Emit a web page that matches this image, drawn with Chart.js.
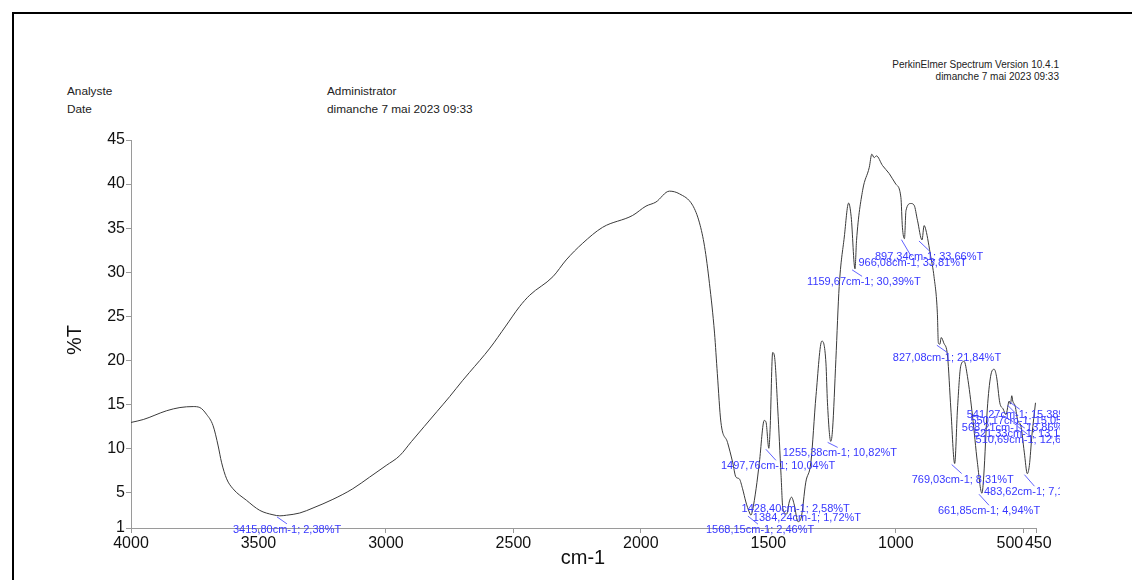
<!DOCTYPE html>
<html lang="fr">
<head>
    <meta charset="UTF-8">
    <title>Spectre IR - %T</title>
    <script src="https://cdn.jsdelivr.net/npm/chart.js"></script>
    <style>
        html, body { margin: 0; padding: 0; background: #fff; overflow: hidden; }
        body { width: 1132px; height: 580px; position: relative; font-family: "Liberation Sans", Arial, sans-serif; color: #222; }
        #frame { position: absolute; left: 12px; top: 12px; width: 1300px; height: 800px; border-top: 2px solid #000; border-left: 2px solid #000; }
        .hd { position: absolute; font-size: 11.8px; line-height: 13px; white-space: nowrap; }
        .sm { font-size: 10px; line-height: 12px; text-align: right; }
        #wrap { position: absolute; left: 0; top: 0; width: 1132px; height: 580px; }
    </style>
</head>
<body>
    <div id="frame"></div>
    <div class="hd sm" style="right:73px; top:59px;">PerkinElmer Spectrum Version 10.4.1<br>dimanche 7 mai 2023 09:33</div>
    <div class="hd" style="left:67px; top:85px;">Analyste</div>
    <div class="hd" style="left:67px; top:103px;">Date</div>
    <div class="hd" style="left:327px; top:85px;">Administrator</div>
    <div class="hd" style="left:327px; top:103px;">dimanche 7 mai 2023 09:33</div>
    <div id="wrap"><canvas id="spectrum" width="1132" height="580"></canvas></div>

    <script>
        // spectrum (cm-1, %T)
        const wavenumbers = [
            4000, 3952, 3860, 3808, 3756, 3730, 3704, 3678, 3658, 3645, 3625, 3600, 3547, 3495, 3443, 3416, 3390, 3338,
            3286, 3208, 3130, 3064, 2999, 2946, 2900, 2850, 2800, 2750, 2700, 2672, 2592, 2530, 2476, 2436, 2345, 2293,
            2228, 2150, 2032, 1980, 1941, 1888, 1849, 1797, 1770, 1750, 1731, 1711, 1700, 1686, 1660, 1640, 1627, 1614,
            1601, 1588, 1575, 1568, 1562, 1548, 1535, 1516, 1509, 1498, 1493, 1483, 1476, 1463, 1450, 1443, 1428, 1418,
            1409, 1398, 1384, 1372, 1353, 1333, 1313, 1290, 1274, 1268, 1255, 1248, 1235, 1222, 1202, 1185, 1175, 1160,
            1154, 1130, 1104, 1094, 1085, 1076, 1052, 1026, 1000, 980, 974, 966, 960, 941, 928, 915, 897, 889, 882, 863,
            850, 837, 833, 827, 822, 812, 797, 784, 769, 758, 745, 732, 719, 699, 680, 662, 655, 641, 628, 614, 605, 592,
            579, 568, 555, 550, 545, 541, 532, 521, 510, 496, 484, 476, 466, 452
        ];
        const transmittance = [
            12.97, 13.3, 14.3, 14.66, 14.77, 14.66, 13.9, 12.6, 10.3, 8.46, 6.58, 5.45, 4.14, 3.0, 2.5, 2.38, 2.45, 2.7,
            3.27, 4.25, 5.45, 6.77, 8.09, 9.2, 10.8, 12.5, 14.2, 15.9, 17.7, 18.65, 21.4, 23.9, 26.1, 27.4, 29.5, 31.4,
            33.3, 35.1, 36.45, 37.5, 37.96, 39.2, 38.9, 37.6, 35.6, 32.9, 28.75, 23.1, 18.5, 13.0, 10.7, 8.46, 6.77, 6.58,
            5.45, 3.95, 2.82, 2.46, 3.0, 5.45, 8.46, 13.2, 13.0, 10.04, 12.2, 20.9, 20.5, 14.5, 6.96, 3.2, 2.58, 3.95,
            4.5, 3.6, 1.72, 2.07, 6.2, 8.46, 16.0, 22.2, 19.7, 15.2, 10.82, 12.2, 20.1, 28.4, 34.0, 37.85, 36.3, 30.39,
            33.6, 39.3, 41.9, 43.4, 43.0, 43.2, 42.1, 41.2, 40.0, 38.5, 35.1, 33.81, 37.0, 37.8, 37.6, 35.9, 33.66, 35.3, 34.8, 31.8,
            29.5, 25.4, 22.0, 21.84, 22.6, 22.0, 20.5, 14.5, 8.31, 14.5, 19.4, 19.9, 18.2, 13.7, 8.46, 4.94, 6.9, 14.5, 18.2, 19.0, 18.2, 15.2,
            14.5, 13.86, 15.4, 15.05, 16.0, 15.38, 14.85, 13.13, 12.65, 9.6, 7.16, 8.1, 11.5, 15.2
        ];

        // peak picks printed on the chart
        const peakWn = [3415.80, 1568.15, 1497.76, 1428.40, 1384.24, 1255.38, 1159.67, 966.08, 897.34, 827.08,
                        769.03, 661.85, 568.21, 550.17, 541.27, 521.33, 510.69, 483.62];
        const peakT = [2.38, 2.46, 10.04, 2.58, 1.72, 10.82, 30.39, 33.81, 33.66, 21.84,
                       8.31, 4.94, 13.86, 15.05, 15.38, 13.13, 12.65, 7.16];

        const xTicks = [4000, 3500, 3000, 2500, 2000, 1500, 1000, 500, 450];
        const yTicks = [1, 5, 10, 15, 20, 25, 30, 35, 40, 45];

        // where each peak label sits, relative to its peak (px)
        const labelOffsets = [
            [-47, 14], [-45, 15], [-48, 18], [-45, -5], [-45, -4], [-48, 12], [-48, 13.5], [-46, 24], [-47, 16.5], [-47, 14],
            [-43, 16], [-44, 18], [-44, 13], [-40, 17], [-46, 14], [-44, 13], [-45, 15], [-43.5, 18.5]
        ];

        const fmt = (v) => v.toFixed(2).replace('.', ',');

        const peakLabels = {
            id: 'peakLabels',
            afterDatasetsDraw(chart) {
                const ctx = chart.ctx;
                const xs = chart.scales.x, ys = chart.scales.y;
                ctx.save();
                ctx.beginPath();
                ctx.rect(0, 0, 1060, 580);
                ctx.clip();
                ctx.font = '11px "Liberation Sans", Arial, sans-serif';
                ctx.textBaseline = 'middle';
                ctx.textAlign = 'left';
                peakWn.forEach((wn, i) => {
                    const px = xs.getPixelForValue(wn);
                    const py = ys.getPixelForValue(peakT[i]);
                    const [dx, dy] = labelOffsets[i];
                    const tx = px + dx, ty = py + dy;
                    if (ty - 6 > py + 2) {
                        ctx.strokeStyle = 'rgba(70,70,255,0.85)';
                        ctx.lineWidth = 1;
                        ctx.beginPath();
                        ctx.moveTo(px - 3, py + 1);
                        ctx.lineTo(px + 7, ty - 6);
                        ctx.stroke();
                    }
                    ctx.fillStyle = 'rgb(55,55,255)';
                    ctx.fillText(fmt(wn) + 'cm-1; ' + fmt(peakT[i]) + '%T', tx, ty);
                });
                ctx.restore();

                // axis titles
                ctx.save();
                ctx.fillStyle = '#111';
                ctx.font = '20px "Liberation Sans", Arial, sans-serif';
                ctx.textAlign = 'center';
                ctx.textBaseline = 'middle';
                ctx.fillText('cm-1', 583, 558);
                ctx.translate(75, 340);
                ctx.rotate(-Math.PI / 2);
                ctx.fillText('%T', 0, 0);
                ctx.restore();
            }
        };

        // 500 and 450 are printed side by side: push them apart a little
        const xTickText = (v) => {
            if (v === 500) return '500      ';
            if (v === 450) return ' 450';
            return String(v);
        };

        const ctx = document.getElementById('spectrum').getContext('2d');
        new Chart(ctx, {
            type: 'line',
            data: {
                datasets: [{
                    data: wavenumbers.map((w, i) => ({ x: w, y: transmittance[i] })),
                    borderColor: '#3a3a3a',
                    borderWidth: 1,
                    pointRadius: 0,
                    cubicInterpolationMode: 'monotone',
                    fill: false
                }]
            },
            options: {
                responsive: false,
                animation: false,
                layout: { padding: { left: 0, top: 140, right: 96, bottom: 0 } },
                plugins: { legend: { display: false }, tooltip: { enabled: false } },
                scales: {
                    x: {
                        type: 'linear',
                        reverse: true,
                        min: 450,
                        max: 4000,
                        afterBuildTicks: (s) => { s.ticks = xTicks.map(v => ({ value: v })); },
                        afterFit: (s) => { s.height = 52; },
                        grid: { drawOnChartArea: false, drawTicks: true, tickLength: 5, color: '#9a9a9a' },
                        border: { display: true, color: '#9a9a9a', width: 1 },
                        ticks: {
                            autoSkip: false, maxRotation: 0, padding: 1, color: '#111',
                            font: { family: '"Liberation Sans", Arial, sans-serif', size: 16 },
                            callback: (v) => xTickText(v)
                        }
                    },
                    y: {
                        min: 1,
                        max: 45,
                        afterBuildTicks: (s) => { s.ticks = yTicks.map(v => ({ value: v })); },
                        afterFit: (s) => { s.width = 131; },
                        grid: { drawOnChartArea: false, drawTicks: true, tickLength: 5, color: '#9a9a9a' },
                        border: { display: true, color: '#9a9a9a', width: 1 },
                        ticks: {
                            autoSkip: false, padding: 1, color: '#111',
                            font: { family: '"Liberation Sans", Arial, sans-serif', size: 16 },
                            callback: (v) => String(v)
                        }
                    }
                }
            },
            plugins: [peakLabels]
        });
    </script>
</body>
</html>
